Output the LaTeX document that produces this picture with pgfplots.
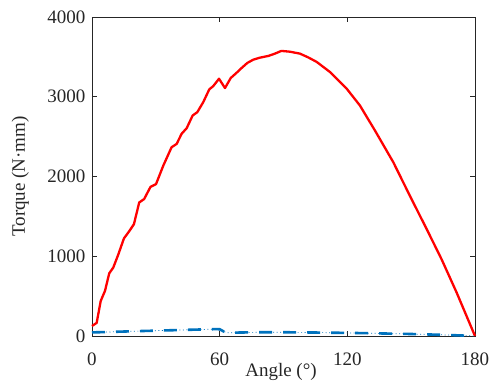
\documentclass[border=0pt]{standalone}
\usepackage{fontspec}
\setmainfont{Liberation Serif}
\usepackage{pgfplots}
\pgfplotsset{compat=1.18}
\definecolor{mblue}{RGB}{0,114,189}
\definecolor{axgray}{RGB}{38,38,38}
\begin{document}
\begin{tikzpicture}
\useasboundingbox (-92pt,-45pt) rectangle (399pt,336pt);
\begin{axis}[
  at={(0,0)}, anchor=south west,
  scale only axis, width=383pt, height=319pt,
  xmin=0, xmax=180, ymin=0, ymax=4000,
  xtick={0,60,120,180}, ytick={0,1000,2000,3000,4000},
  tick align=inside, major tick length=5pt,
  axis line style={axgray, line width=0.8pt},
  tick style={axgray, line width=0.8pt},
  /pgf/number format/assume math mode=true,
  scaled y ticks=false,
  yticklabel style={/pgf/number format/1000 sep={}},
  ticklabel style={font=\fontsize{19}{22}\selectfont, text=axgray},
  xticklabel style={anchor=base, yshift=-29pt},
  yticklabel style={anchor=east, xshift=-3pt},
  label style={font=\fontsize{19}{22}\selectfont, text=axgray},
  xlabel={Angle (°)},
  xlabel style={at={(axis description cs:0.4935,0)}, anchor=base, yshift=-40pt},
  ylabel={Torque (N·mm)},
  ylabel style={at={(axis description cs:-0.175,0.5)}, anchor=base},
  clip=false,
]
\addplot[red, line width=2.3pt, line join=round] coordinates {
(0,125) (2.2,165) (4.1,440) (6.1,565) (8.1,786) (10,858) (12.4,1025) (15,1223)
(17.6,1318) (19.7,1402) (22.2,1675) (24.5,1717) (27.5,1870) (30.1,1905)
(33.5,2136) (37.4,2367) (39.8,2409) (42.1,2535) (44.5,2606) (47.3,2765)
(49.5,2807) (52.3,2933) (55.1,3092) (57,3134) (59.7,3226) (62.5,3109)
(65.2,3235) (68,3302) (70.3,3360) (73,3424) (75.8,3465) (78.9,3490)
(82.9,3512) (86,3541) (89,3575) (93,3565) (97.7,3541) (101.5,3495)
(105.6,3437) (111.8,3311) (119.7,3101) (125.9,2891) (133,2576) (141.6,2179)
(149.4,1758) (157.3,1340) (164.3,962) (171.4,543) (180,0)
};
\addplot[mblue, line width=0.7pt, dash pattern=on 1pt off 2.5pt] coordinates {
(0,45) (10,52) (20,60) (30,67) (40,74) (50,81) (58,86) (60,85) (62,55) (64,40)
(70,44) (80,47) (90,47) (100,45) (110,42) (120,39) (130,35) (140,30) (150,25)
(160,18) (170,10) (180,0)
};
\addplot[mblue, line width=2.6pt, dash pattern=on 13pt off 11pt] coordinates {
(0,45) (10,52) (20,60) (30,67) (40,74) (50,81) (58,86) (60,85) (62,55) (64,40)
(70,44) (80,47) (90,47) (100,45) (110,42) (120,39) (130,35) (140,30) (150,25)
(160,18) (170,10) (180,0)
};
\end{axis}
\end{tikzpicture}
\end{document}
